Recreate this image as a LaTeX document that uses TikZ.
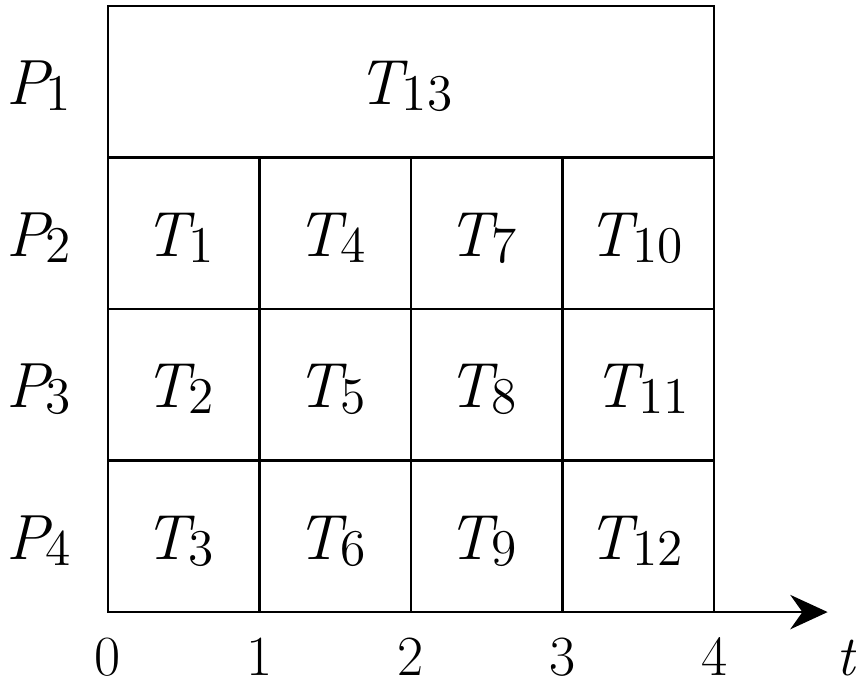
\documentclass[tikz,border=0pt]{standalone}
\usepackage{fontspec}
\usepackage{tikz}
\usetikzlibrary{arrows.meta}
\newcommand{\job}[2]{\textit{#1}\kern-0.1em\raisebox{-0.1em}{\fontsize{14.5}{14.5}\selectfont #2}}

\begin{document}
\begin{tikzpicture}[x=1.5cm, y=1.5cm,
  font=\rmfamily\fontsize{18}{18}\selectfont,
  grid/.style={draw=black, line width=0.75pt},
  lbl/.style={anchor=base, inner sep=0pt},
  tick/.style={anchor=base, inner sep=0pt, font=\rmfamily\fontsize{16}{16}\selectfont},
  axis/.style={-{Stealth[length=0.37cm, width=0.34cm, inset=0.12cm]}, line width=0.75pt}
]
  \useasboundingbox (-0.713,-0.455) rectangle (4.937,4.04);

  % grid of processors and time slots
  \draw[grid] (0,0) rectangle (4,4);
  \foreach \r in {1,2,3} \draw[grid] (0,\r) -- (4,\r);
  \foreach \c in {1,2,3} \draw[grid] (\c,0) -- (\c,3);

  % time axis
  \coordinate (o) at (0,0);
  \coordinate (tend) at (4.75,0);
  \draw[axis] (o) -- (tend);

  % processor labels
  \node[lbl] (p1) at (-0.46,3.35) {\job{P}{1}};
  \node[lbl] (p2) at (-0.46,2.35) {\job{P}{2}};
  \node[lbl] (p3) at (-0.46,1.35) {\job{P}{3}};
  \node[lbl] (p4) at (-0.46,0.35) {\job{P}{4}};

  % tasks
  \node[lbl] (t13) at (1.96,3.35) {\job{T}{13}};
  \node[lbl] (t1)  at (0.47,2.35) {\job{T}{1}};
  \node[lbl] (t4)  at (1.47,2.35) {\job{T}{4}};
  \node[lbl] (t7)  at (2.47,2.35) {\job{T}{7}};
  \node[lbl] (t10) at (3.48,2.35) {\job{T}{10}};
  \node[lbl] (t2)  at (0.47,1.35) {\job{T}{2}};
  \node[lbl] (t5)  at (1.47,1.35) {\job{T}{5}};
  \node[lbl] (t8)  at (2.47,1.35) {\job{T}{8}};
  \node[lbl] (t11) at (3.52,1.35) {\job{T}{11}};
  \node[lbl] (t3)  at (0.47,0.35) {\job{T}{3}};
  \node[lbl] (t6)  at (1.47,0.35) {\job{T}{6}};
  \node[lbl] (t9)  at (2.47,0.35) {\job{T}{9}};
  \node[lbl] (t12) at (3.48,0.35) {\job{T}{12}};

  % time ticks
  \foreach \k in {0,...,4}
    \node[tick] (k\k) at (\k,-0.42) {\k};
  \node[tick] (tl) at (4.88,-0.42) {\textit{t}};
\end{tikzpicture}
\end{document}
